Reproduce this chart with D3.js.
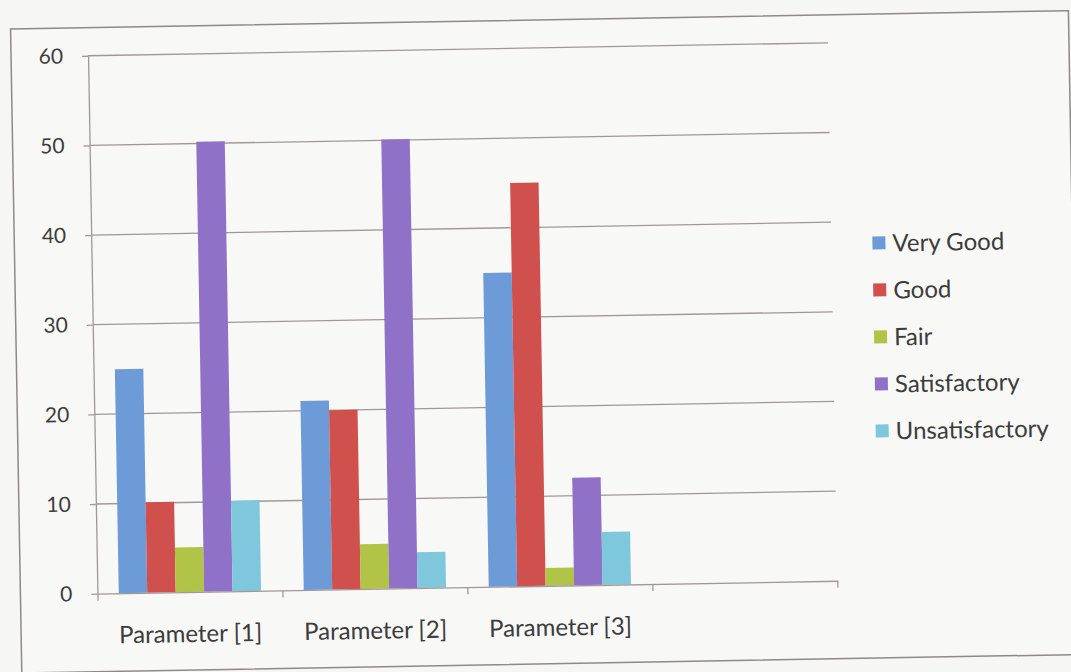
<!DOCTYPE html>
<html>
<head>
<meta charset="utf-8">
<script src="https://cdn.jsdelivr.net/npm/d3@7"></script>
<style>
  body { margin: 0; background: #f6f6f4; }
  svg { display: block; }
</style>
</head>
<body>
<svg id="chart" width="1071" height="672"></svg>
<script>
// ---- data ----
const categories = ["Parameter [1]", "Parameter [2]", "Parameter [3]"];
const seriesNames = ["Very Good", "Good", "Fair", "Satisfactory", "Unsatisfactory"];
const veryGood       = [25.0, 21.1, 35.0];
const good           = [10.1, 20.0, 45.0];
const fair           = [5.0, 5.0, 2.0];
const satisfactory   = [50.2, 50.1, 12.0];
const unsatisfactory = [10.1, 4.0, 5.9];
const yTicks = [0, 10, 20, 30, 40, 50, 60];
const seriesColors = ["#6c9bd7", "#d0504e", "#b2c448", "#8f72c8", "#7ec7dc"];

const seriesValues = [veryGood, good, fair, satisfactory, unsatisfactory];
// one empty slot after the three categories, as in the original
const slots = categories.concat([" "]);

// ---- layout ----
const plotLeft = 93, plotRight = 833, plotTop = 48, plotBottom = 586;
const gridColor = "#a09896";
const textColor = "#3c3c3c";
const font = "Lato, 'Open Sans', sans-serif";

const svg = d3.select("#chart");
svg.append("rect").attr("width", 1071).attr("height", 672).attr("fill", "#f6f6f4");

// the scanned original is tilted by about one degree
const g = svg.append("g").attr("transform", "rotate(-1, 535, 336)");

// outer chart border
g.append("rect")
  .attr("x", 16).attr("y", 20).attr("width", 1058).attr("height", 644)
  .attr("fill", "#f8f8f6").attr("stroke", "#8e8a88").attr("stroke-width", 1.5);

const x0 = d3.scaleBand().domain(slots).range([plotLeft, plotRight]).padding(0);
const x1 = d3.scaleBand().domain(seriesNames).range([0, x0.bandwidth()])
  .paddingInner(0).paddingOuter(0.75);
const y = d3.scaleLinear().domain([0, 60]).range([plotBottom, plotTop]);

// gridlines
g.append("g").selectAll("line").data(yTicks.filter(d => d > 0)).join("line")
  .attr("x1", plotLeft).attr("x2", plotRight)
  .attr("y1", d => y(d)).attr("y2", d => y(d))
  .attr("stroke", gridColor).attr("stroke-width", 1.3);

// bars
const catG = g.append("g").selectAll("g").data(categories).join("g")
  .attr("transform", c => `translate(${x0(c)},0)`);
catG.selectAll("rect")
  .data((c, ci) => seriesNames.map((s, si) => ({ s, si, v: seriesValues[si][ci] })))
  .join("rect")
  .attr("x", d => x1(d.s))
  .attr("width", x1.bandwidth())
  .attr("y", d => y(d.v))
  .attr("height", d => y(0) - y(d.v))
  .attr("fill", d => seriesColors[d.si]);

// y axis
const yAxis = g.append("g").attr("transform", `translate(${plotLeft},0)`)
  .call(d3.axisLeft(y).tickValues(yTicks).tickSize(6).tickSizeOuter(0).tickPadding(19));
yAxis.selectAll("path, line").attr("stroke", gridColor).attr("stroke-width", 1.3);
yAxis.selectAll("text").attr("font-family", font).attr("font-size", 21).attr("fill", textColor);

// x axis: boundary ticks
const xb = d3.scaleLinear().domain([0, slots.length]).range([plotLeft, plotRight]);
const xAxis = g.append("g").attr("transform", `translate(0,${plotBottom})`)
  .call(d3.axisBottom(xb).ticks(slots.length).tickSize(7).tickSizeOuter(0).tickFormat(""));
xAxis.selectAll("path, line").attr("stroke", gridColor).attr("stroke-width", 1.3);

// x axis: category labels
const xLab = g.append("g").attr("transform", `translate(0,${plotBottom})`)
  .call(d3.axisBottom(x0).tickSize(0).tickPadding(33));
xLab.select(".domain").remove();
xLab.selectAll("text").attr("font-family", font).attr("font-size", 24).attr("fill", textColor);

// legend
const leg = g.append("g").selectAll("g").data(seriesNames).join("g")
  .attr("transform", (d, i) => `translate(874,${249 + i * 47})`);
leg.append("rect").attr("x", 0).attr("y", -6.5).attr("width", 13).attr("height", 13)
  .attr("fill", (d, i) => seriesColors[i]);
leg.append("text").attr("x", 20).attr("dy", "0.36em")
  .attr("font-family", font).attr("font-size", 24).attr("fill", textColor)
  .text(d => d);
</script>
</body>
</html>
